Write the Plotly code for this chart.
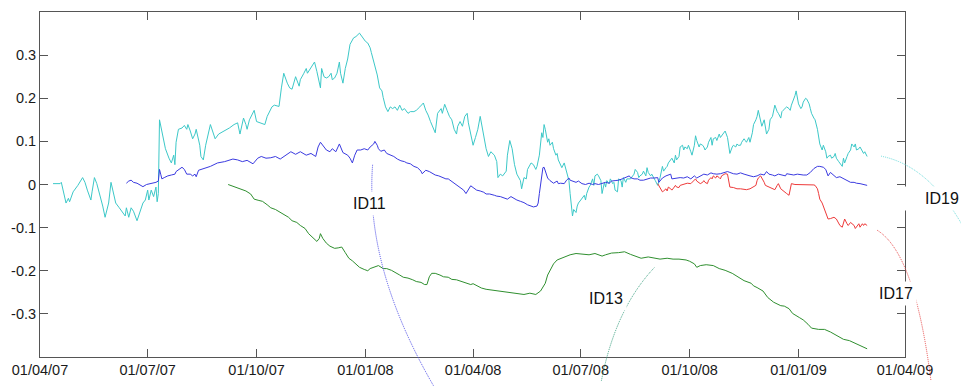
import pandas as pd
import plotly.graph_objects as go

# ---- data: day offsets from BASE and the series values ----
BASE = "2007-04-01"

id19_days = [11, 17, 18, 22, 24, 25, 28, 30, 32, 36, 38, 40, 43, 44, 46, 48, 51, 53, 55, 56, 58, 60, 62, 64, 67, 70, 72, 73, 75, 77, 79, 82, 83, 85, 87, 89, 91, 92, 94, 96, 98, 99, 100,
             101, 104, 106, 109, 111, 113, 114, 115, 117, 120, 122, 124, 125, 127, 129, 131, 132, 135,
             136, 138, 140, 144, 148, 151, 156, 160, 164, 167, 169, 172, 174, 175, 177, 181, 183, 186, 190, 192, 196, 198, 202, 204, 206, 209, 211, 213, 215, 216, 219, 220, 223, 225, 226, 227, 229, 232, 234, 237, 238, 240, 242, 244, 246, 247, 249, 251, 253, 254, 256, 258, 260, 262, 265, 267, 270,
             273, 275, 277, 279, 280, 282, 283, 285, 287, 289, 290, 292, 294, 296, 298, 300, 302, 304, 306, 308, 311, 313, 316, 318, 321, 324, 326, 328, 330, 333, 334, 336, 339, 340, 342, 344, 346, 348, 350, 352, 353, 355, 357, 359, 361, 362, 364, 366, 368, 370, 372, 373, 375, 377, 379, 381, 384, 386, 387, 389, 391, 394, 395, 397, 399, 401, 403, 406, 407, 409, 411, 412, 415,
             417, 419, 420, 422, 424, 425, 426, 427, 429, 430, 431, 433, 434, 436, 437, 438, 440, 441, 443, 444, 446, 447, 448, 449, 450, 451, 453, 454, 455, 457, 458, 460, 461, 462, 464, 465, 467, 468, 469, 471, 472, 474, 475, 477, 478, 479, 481, 482, 484, 485, 486, 488, 489, 491, 492, 493, 495, 496, 499, 502, 503, 505, 506, 507, 509, 510, 512, 513, 514, 516, 517, 519, 520, 522, 523, 524, 526, 527, 529, 530, 531, 533, 534, 536, 537, 538, 540,
             541, 543, 544, 545, 547, 548, 550, 551, 553, 554, 555, 557, 558, 560, 561, 562, 564, 565, 567, 568, 569, 571, 572, 574, 575, 576, 578, 579, 581, 582, 583, 585, 586, 588, 589, 590, 592, 593, 595, 596, 597, 599, 600, 602, 603, 605, 606, 607, 609, 610, 612, 613, 614, 616, 617, 619, 620, 621, 623, 624, 626, 627, 628, 630, 631, 633, 634, 635, 637, 638, 639, 640, 641, 643, 644, 645, 647, 648, 650, 651, 652, 654, 655, 657, 658, 659, 661, 662, 664, 665, 666, 668, 669, 671, 672, 673, 675, 676, 678, 679, 680, 682, 683, 685, 686, 688, 689, 690, 692, 693, 695, 696, 697, 699]
id19_vals = [0.002, 0.002, 0.005, -0.043, -0.032, -0.040, -0.017, -0.010, -0.002, 0.016, 0.005, -0.013, -0.036, -0.017, 0.016, 0.002, -0.028, -0.050, -0.076, -0.065, -0.043, 0.005, -0.021, -0.043, -0.054, -0.065, -0.073, -0.054, -0.076, -0.054, -0.062, -0.084, -0.076, -0.058, -0.043, -0.036, -0.013, -0.036, -0.013, -0.028, -0.006, -0.040, -0.021,
             0.150, 0.113, 0.083, 0.061, 0.050, 0.068, 0.046, 0.098, 0.128, 0.131, 0.137, 0.128, 0.139, 0.124, 0.106, 0.117, 0.128, 0.091,
             0.065, 0.057, 0.091, 0.139, 0.106, 0.117, 0.124, 0.131, 0.139, 0.143, 0.117, 0.154, 0.139, 0.128, 0.150, 0.172, 0.146, 0.143, 0.139, 0.158, 0.180, 0.184, 0.181, 0.224, 0.258, 0.235, 0.224, 0.221, 0.239, 0.250, 0.228, 0.243, 0.258, 0.269, 0.258, 0.262, 0.270, 0.284, 0.262, 0.224, 0.269, 0.250, 0.247, 0.250, 0.258, 0.243, 0.247, 0.258, 0.284, 0.258, 0.235, 0.269, 0.291, 0.325, 0.340, 0.343, 0.351,
             0.340, 0.332, 0.328, 0.317, 0.306, 0.284, 0.273, 0.254, 0.224, 0.217, 0.202, 0.180, 0.169, 0.180, 0.176, 0.180, 0.172, 0.184, 0.172, 0.176, 0.165, 0.169, 0.169, 0.172, 0.180, 0.189, 0.172, 0.161, 0.146, 0.124, 0.120, 0.165, 0.176, 0.165, 0.186, 0.172, 0.158, 0.150, 0.128, 0.117, 0.135, 0.146, 0.135, 0.158, 0.165, 0.143, 0.117, 0.091, 0.109, 0.128, 0.158, 0.143, 0.113, 0.083, 0.065, 0.076, 0.068, 0.053, 0.016, 0.024, 0.020, 0.031, 0.068, 0.102, 0.083, 0.046, 0.024, 0.009, -0.010, 0.016, 0.013, 0.035, 0.050,
             0.046, 0.035, 0.042, 0.068, 0.120, 0.109, 0.139, 0.128, 0.098, 0.106, 0.091, 0.098, 0.083, 0.068, 0.072, 0.057, 0.046, 0.039, 0.050, 0.039, 0.020, 0.009, -0.021, -0.050, -0.073, -0.058, -0.065, -0.050, -0.043, -0.036, -0.032, -0.025, -0.036, -0.021, -0.006, -0.002, 0.013, -0.002, 0.020, 0.024, 0.020, 0.009, -0.021, 0.005, -0.006, 0.009, 0.002, 0.013, 0.002, 0.005, -0.013, -0.017, 0.013, 0.009, -0.006, 0.016, 0.005, 0.013, 0.013, 0.024, 0.035, 0.028, 0.016, 0.020, 0.024, 0.031, 0.020, 0.039, 0.028, 0.020, 0.024, 0.016, 0.009, -0.002, 0.005, 0.016, 0.042, 0.031, 0.039, 0.042, 0.050, 0.057, 0.061, 0.050, 0.068, 0.057, 0.065,
             0.087, 0.091, 0.080, 0.087, 0.083, 0.091, 0.076, 0.068, 0.091, 0.113, 0.102, 0.087, 0.094, 0.091, 0.087, 0.080, 0.087, 0.098, 0.109, 0.091, 0.106, 0.109, 0.102, 0.117, 0.109, 0.113, 0.120, 0.124, 0.109, 0.087, 0.072, 0.087, 0.091, 0.087, 0.094, 0.091, 0.091, 0.098, 0.106, 0.102, 0.098, 0.109, 0.098, 0.120, 0.139, 0.150, 0.158, 0.172, 0.150, 0.135, 0.150, 0.135, 0.117, 0.128, 0.150, 0.158, 0.172, 0.184, 0.169, 0.165, 0.154, 0.169, 0.172, 0.176, 0.180, 0.176, 0.172, 0.184, 0.198, 0.206, 0.217, 0.202, 0.187, 0.176, 0.180, 0.191, 0.200, 0.198, 0.187, 0.176, 0.165, 0.154, 0.150, 0.128, 0.113, 0.094, 0.080, 0.091, 0.076, 0.061, 0.065, 0.068, 0.061, 0.065, 0.072, 0.061, 0.053, 0.050, 0.042, 0.061, 0.050, 0.065, 0.072, 0.080, 0.094, 0.087, 0.094, 0.080, 0.083, 0.087, 0.076, 0.072, 0.076, 0.065]

id11_days = [73, 75, 77, 79, 82, 84, 87, 90, 93, 96, 98, 100, 101, 102, 103, 105, 108, 111, 114, 115, 118, 120, 122, 124, 127, 129, 131, 132, 134,
             136, 140, 144, 150, 156, 163, 167, 171, 175, 180, 184, 187, 191, 195, 199, 203, 208, 212, 216, 220, 225, 229, 233, 235, 237, 240, 242, 245, 247, 250, 253, 256, 260, 262, 264, 266, 268,
             271, 274, 277, 279, 282, 283, 285, 286, 288, 291, 293, 296, 299, 302, 305, 308, 310, 313, 316, 319, 322, 323, 326, 329, 332, 334, 337, 340, 343, 345, 347, 350, 353, 355, 358, 360, 362, 364, 366, 369, 372, 375, 377, 380, 384, 386, 389, 393, 395, 398, 400, 403, 406, 409, 412, 415,
             417, 420, 421, 422, 424, 425, 426, 428, 429, 431, 433, 434, 437, 438, 440, 443, 445, 447, 448, 451, 453, 455, 458, 461, 464, 467, 469, 472, 475, 478, 481, 483, 486, 489, 492, 495, 498, 499, 502, 505, 507, 510, 513, 516, 519, 522, 523, 524, 526, 529, 531, 533, 534, 537, 540,
             541, 544, 547, 550, 553, 555, 558, 561, 564, 567, 569, 572, 575, 578, 581, 583, 586, 589, 592, 595, 597, 600, 603, 606, 609, 612, 614, 616, 619, 621, 624, 627, 630, 631, 634, 637, 640, 643, 645, 648, 651, 654, 657, 659, 662, 664, 665, 666, 668, 671, 673, 676, 679, 682, 685, 688, 690, 693, 696, 699]
id11_vals = [0.003, 0.008, 0.010, 0.005, 0.003, 0.000, -0.005, 0.000, 0.002, 0.003, 0.005, 0.008, 0.035, 0.024, 0.013, 0.016, 0.020, 0.022, 0.024, 0.030, 0.037, 0.040, 0.035, 0.024, 0.024, 0.020, 0.024, 0.018, 0.033,
             0.035, 0.039, 0.042, 0.050, 0.053, 0.059, 0.057, 0.053, 0.056, 0.048, 0.061, 0.065, 0.061, 0.062, 0.065, 0.059, 0.068, 0.076, 0.070, 0.076, 0.068, 0.072, 0.065, 0.087, 0.098, 0.087, 0.080, 0.076, 0.083, 0.076, 0.094, 0.074, 0.068, 0.061, 0.050, 0.068, 0.080,
             0.080, 0.083, 0.080, 0.087, 0.094, 0.100, 0.091, 0.083, 0.077, 0.080, 0.072, 0.068, 0.065, 0.059, 0.055, 0.053, 0.050, 0.048, 0.042, 0.039, 0.031, 0.025, 0.033, 0.030, 0.025, 0.022, 0.020, 0.016, 0.013, 0.013, 0.009, 0.005, -0.002, -0.007, -0.013, -0.021, -0.012, -0.003, -0.007, -0.013, -0.015, -0.018, -0.022, -0.022, -0.025, -0.027, -0.028, -0.032, -0.034, -0.028, -0.032, -0.036, -0.039, -0.042, -0.047, -0.050,
             -0.052, -0.050, -0.043, -0.021, 0.016, 0.039, 0.040, 0.024, 0.015, 0.009, 0.005, 0.003, 0.008, 0.002, 0.003, 0.002, 0.010, 0.015, 0.010, 0.008, 0.005, 0.008, 0.002, 0.000, 0.003, 0.000, 0.002, 0.000, 0.003, 0.005, 0.003, 0.008, 0.009, 0.010, 0.013, 0.016, 0.020, 0.016, 0.013, 0.013, 0.010, 0.010, 0.013, 0.015, 0.015, 0.016, 0.005, 0.009, 0.015, 0.020, 0.022, 0.024, 0.013, 0.015, 0.016,
             0.016, 0.015, 0.018, 0.013, 0.020, 0.015, 0.020, 0.024, 0.022, 0.027, 0.025, 0.024, 0.025, 0.027, 0.030, 0.028, 0.025, 0.024, 0.027, 0.024, 0.022, 0.020, 0.018, 0.020, 0.024, 0.022, 0.030, 0.024, 0.022, 0.020, 0.024, 0.022, 0.020, 0.025, 0.024, 0.022, 0.024, 0.022, 0.022, 0.022, 0.028, 0.037, 0.042, 0.042, 0.040, 0.035, 0.024, 0.020, 0.028, 0.020, 0.016, 0.018, 0.013, 0.009, 0.005, 0.005, 0.003, 0.002, 0.000, -0.002]

id13_days = [159, 163, 169, 174, 178, 181, 185, 188, 192, 195, 199, 203, 206, 210, 213, 217, 220, 224, 227, 231, 234, 236, 237, 239, 242, 245, 249, 252, 255, 258, 261, 264, 267, 270, 274, 277, 279, 283, 286, 290, 293, 297, 300, 304, 307, 311, 315, 318, 322, 325, 327, 329, 331, 334, 338, 341, 345, 348, 352, 357, 362, 364, 366, 370, 373, 377, 382, 387, 393, 398, 403, 409, 414, 419, 423, 427, 429, 434, 437, 443, 448, 453, 459, 464, 469, 475, 478, 483, 489, 494, 499, 505, 508, 514, 519, 524, 530, 535, 540, 546, 549, 553, 555, 558, 563, 569, 574, 579, 585, 590, 595, 601, 603, 606, 611, 615, 620, 626, 629, 633, 636, 642, 645, 649, 652, 658, 663, 668, 674, 679, 684, 690, 695, 699]
id13_vals = [0.000, -0.004, -0.010, -0.015, -0.022, -0.034, -0.037, -0.039, -0.047, -0.054, -0.058, -0.064, -0.069, -0.076, -0.084, -0.088, -0.095, -0.102, -0.114, -0.125, -0.132, -0.125, -0.114, -0.125, -0.136, -0.143, -0.148, -0.147, -0.145, -0.158, -0.171, -0.177, -0.184, -0.192, -0.197, -0.200, -0.195, -0.192, -0.188, -0.195, -0.195, -0.199, -0.203, -0.210, -0.215, -0.217, -0.221, -0.225, -0.227, -0.232, -0.232, -0.214, -0.206, -0.206, -0.210, -0.214, -0.215, -0.220, -0.221, -0.225, -0.229, -0.232, -0.230, -0.236, -0.240, -0.243, -0.245, -0.247, -0.249, -0.251, -0.252, -0.255, -0.252, -0.255, -0.247, -0.229, -0.210, -0.184, -0.175, -0.169, -0.163, -0.160, -0.162, -0.163, -0.160, -0.166, -0.163, -0.159, -0.158, -0.156, -0.162, -0.168, -0.171, -0.168, -0.171, -0.173, -0.171, -0.173, -0.173, -0.175, -0.178, -0.184, -0.192, -0.188, -0.186, -0.188, -0.195, -0.199, -0.206, -0.214, -0.223, -0.229, -0.235, -0.239, -0.247, -0.262, -0.273, -0.281, -0.282, -0.288, -0.299, -0.309, -0.314, -0.324, -0.333, -0.336, -0.336, -0.342, -0.351, -0.359, -0.362, -0.370, -0.377, -0.381]

id17_days = [522, 524, 526, 527, 529, 530, 531, 533, 534, 536, 537, 538, 540,
             541, 544, 547, 550, 553, 554, 555, 558, 560, 561, 562, 564, 565, 567, 568, 569, 571, 572, 574, 575, 576, 578, 579, 581, 582, 583, 586, 589, 592, 595, 597, 600, 603, 605, 606, 607, 609, 610, 612, 613, 616, 619, 621, 623, 624, 626, 628, 631, 633, 634, 635, 638, 641, 644, 647, 650, 654, 655, 657, 658, 659, 661, 662, 664, 665, 666, 668, 671, 673, 675, 676, 678, 679, 680, 682, 683, 685, 686, 688, 689, 690, 692, 693, 695, 696, 697, 699]
id17_vals = [0.002, -0.006, -0.017, -0.015, -0.010, -0.015, -0.006, -0.010, -0.013, -0.006, -0.002, -0.006, -0.007,
             -0.002, 0.000, 0.003, 0.002, 0.010, 0.013, 0.008, 0.002, 0.005, 0.009, 0.005, 0.002, 0.010, 0.016, 0.013, 0.020, 0.015, 0.020, 0.016, 0.013, 0.020, 0.024, 0.025, 0.024, 0.009, -0.006, -0.007, -0.010, -0.010, -0.012, -0.012, -0.010, -0.006, -0.002, 0.009, 0.015, 0.020, 0.016, 0.005, -0.002, -0.006, -0.010, -0.012, -0.002, 0.002, -0.010, -0.015, -0.021, -0.025, -0.010, 0.002, 0.000, 0.000, -0.001, -0.001, -0.001, -0.001, -0.002, -0.010, -0.021, -0.034, -0.043, -0.050, -0.062, -0.069, -0.080, -0.079, -0.076, -0.080, -0.088, -0.095, -0.099, -0.088, -0.080, -0.091, -0.095, -0.088, -0.091, -0.095, -0.102, -0.099, -0.091, -0.099, -0.091, -0.095, -0.091, -0.095]

x_range = ["2007-04-01", "2009-04-01"]
x_ticks = ["2007-04-01", "2007-07-01", "2007-10-01", "2008-01-01", "2008-04-01",
           "2008-07-01", "2008-10-01", "2009-01-01", "2009-04-01"]
y_ticks = [0.3, 0.2, 0.1, 0, -0.1, -0.2, -0.3]
y_ticktext = ["0.3", "0.2", "0.1", "0", "-0.1", "-0.2", "-0.3"]

series = [
    ("ID19", id19_days, id19_vals, "#3cc8c8"),
    ("ID11", id11_days, id11_vals, "#3a3ae0"),
    ("ID13", id13_days, id13_vals, "#2f8f2f"),
    ("ID17", id17_days, id17_vals, "#ee3a3a"),
]

# ---- figure geometry ----
W, H = 961, 389
ML, MR, MT, MB = 39, 56, 11, 19
PW, PH = W - ML - MR, H - MT - MB


def px(x):
    return (x - ML) / PW


def py(y):
    return (H - MB - y) / PH


FONT = "Liberation Sans, Arial, sans-serif"
base = pd.Timestamp(BASE)

fig = go.Figure()
for name, days, vals, color in series:
    fig.add_trace(go.Scatter(
        x=base + pd.to_timedelta(days, unit="D"), y=vals, mode="lines", name=name,
        line=dict(color=color, width=1), showlegend=False, hoverinfo="skip"))

# curved fine-dotted leader lines for the series labels (pixel space -> paper)
leaders = [
    ("#6adcdc", [(881, 161), (935, 172), (972, 252)]),
    ("#e84848", [(877, 238), (915, 262), (931, 395)]),
    ("#4a4ae8", [(372, 170), (364, 276), (433, 400)]),
    ("#3aa080", [(654, 277), (615, 320), (601, 395)]),
]
for color, ((x0, y0), (cx, cy), (x1, y1)) in leaders:
    path = (f"M {px(x0):.5f},{py(y0):.5f} Q {px(cx):.5f},{py(cy):.5f} "
            f"{px(x1):.5f},{py(y1):.5f}")
    fig.add_shape(type="path", path=path, xref="paper", yref="paper",
                  line=dict(color=color, width=1, dash="1px,1px"), layer="above")

label_font = dict(family=FONT, size=16, color="#111111")
fig.add_annotation(text="ID11", x=px(369), y=py(210), xref="paper", yref="paper",
                   showarrow=False, bgcolor="white", borderpad=3, font=label_font)
fig.add_annotation(text="ID13", x=px(627), y=py(322), xref="paper", yref="paper",
                   showarrow=False, bgcolor="white", borderpad=3, font=label_font)
fig.add_annotation(text="ID17", x=px(917.5), y=py(316.5), xref="paper", yref="paper",
                   showarrow=False, bgcolor="white", borderpad=3, font=label_font)
fig.add_annotation(text="ID19", x=px(898), y=py(205), xref="paper", yref="paper",
                   xanchor="left", width=57, align="right",
                   showarrow=False, bgcolor="white", borderpad=3, font=label_font)

axis_common = dict(showline=True, linecolor="#555555", linewidth=1, mirror="ticks",
                   ticks="inside", ticklen=8, tickcolor="#555555", tickwidth=1,
                   showgrid=False, zeroline=False,
                   tickfont=dict(family=FONT, size=14.5, color="#1a1a1a"))

fig.update_xaxes(type="date", range=x_range, tickmode="array", tickvals=x_ticks,
                 tickformat="%d/%m/%y", **axis_common)
fig.update_yaxes(range=[-0.4, 0.4], tickmode="array", tickvals=y_ticks,
                 ticktext=y_ticktext, **axis_common)

fig.update_layout(width=W, height=H, margin=dict(l=ML, r=MR, t=MT, b=MB),
                  paper_bgcolor="white", plot_bgcolor="white", showlegend=False)

fig.write_html("out.html")
